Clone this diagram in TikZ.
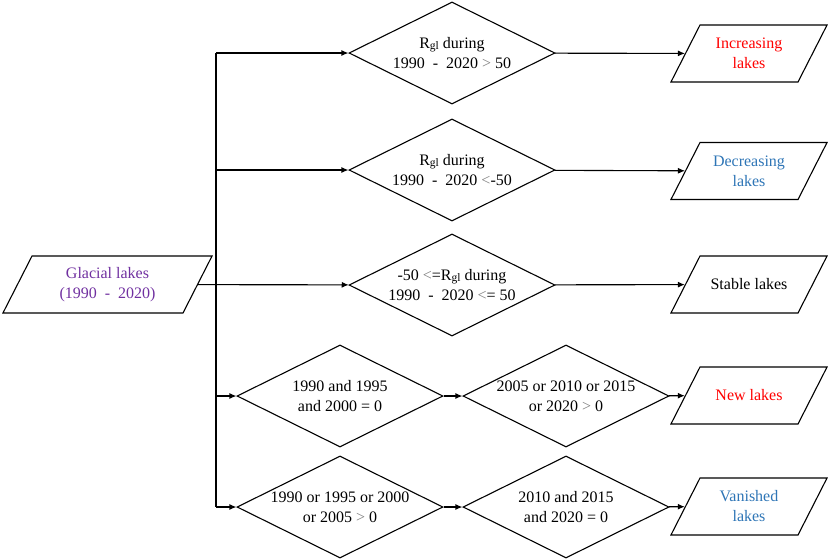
\documentclass[tikz,border=0pt]{standalone}
\usepackage{fontspec}
\setmainfont{Liberation Serif}
\usetikzlibrary{shapes.geometric,arrows.meta}

\definecolor{glacpurple}{RGB}{112,48,160}
\definecolor{lakered}{RGB}{255,0,0}
\definecolor{lakeblue}{RGB}{46,117,182}
\newcommand{\rgl}{R\raisebox{-0.2ex}{\fontsize{11.5}{11.5}\selectfont gl}}
\newcommand{\cmpsym}[1]{\textcolor{gray}{#1}}
\newcommand{\lakelabel}[2][98pt]{\parbox[c][57pt][c]{#1}{\centering #2}}

\begin{document}
\begin{tikzpicture}[x=1pt, y=1pt,
  decide/.style={draw=black, line width=1.1pt, shape=diamond, aspect=2, minimum width=206pt, minimum height=102pt, inner sep=-12pt, align=center, font=\fontsize{16}{20}\selectfont},
  lakebox/.style={draw=black, line width=1.1pt, shape=trapezium, trapezium left angle=63, trapezium right angle=117, inner sep=0pt, font=\fontsize{16}{20}\selectfont},
  arw/.style={draw=black, line width=1.1pt, -{Latex[length=7pt,width=6pt]}}]
  \useasboundingbox (0,0) rectangle (830,-558);

  \node[lakebox, text=glacpurple] (glacial) at (107.5,-284.5) {\lakelabel[151pt]{Glacial lakes\\(1990\ \ -\ \ 2020)}};
  \coordinate (bus) at (216,0);

  \node[decide] (d1) at (452,-53) {\rgl\ during\\1990\ \ -\ \ 2020 \cmpsym{>} 50};
  \node[decide] (d2) at (452,-170) {\rgl\ during\\1990\ \ -\ \ 2020 \cmpsym{<}-50};
  \node[decide] (d3) at (452,-285) {-50 \cmpsym{<}=\rgl\ during\\1990\ \ -\ \ 2020 \cmpsym{<}= 50};
  \node[decide] (d4a) at (340,-396) {1990 and 1995\\and 2000 = 0};
  \node[decide] (d4b) at (566,-396) {2005 or 2010 or 2015\\or 2020 \cmpsym{>} 0};
  \node[decide] (d5a) at (340,-507) {1990 or 1995 or 2000\\or 2005 \cmpsym{>} 0};
  \node[decide] (d5b) at (566,-507) {2010 and 2015\\and 2020 = 0};

  \node[lakebox, text=lakered] (inc) at (749,-53.5) {\lakelabel{Increasing\\lakes}};
  \node[lakebox, text=lakeblue] (dec) at (749,-171) {\lakelabel{Decreasing\\lakes}};
  \node[lakebox] (stab) at (749,-284.5) {\lakelabel{Stable lakes}};
  \node[lakebox, text=lakered] (new) at (749,-395.5) {\lakelabel{New lakes}};
  \node[lakebox, text=lakeblue] (van) at (749,-506.5) {\lakelabel{Vanished\\lakes}};

  % branches
  \draw[line width=1.1pt] (bus |- d1.west) -- (bus |- d5a.west);
  \draw[arw] (glacial) -- (d3);
  \draw[arw] (bus |- d1.west) -- (d1.west);
  \draw[arw] (bus |- d2.west) -- (d2.west);
  \draw[arw] (bus |- d4a.west) -- (d4a.west);
  \draw[arw] (bus |- d5a.west) -- (d5a.west);

  \draw[arw] (d1) -- (inc);
  \draw[arw] (d2) -- (dec);
  \draw[arw] (d3) -- (stab);
  \draw[arw] (d4a) -- (d4b);
  \draw[arw] (d4b) -- (new);
  \draw[arw] (d5a) -- (d5b);
  \draw[arw] (d5b) -- (van);
\end{tikzpicture}
\end{document}
